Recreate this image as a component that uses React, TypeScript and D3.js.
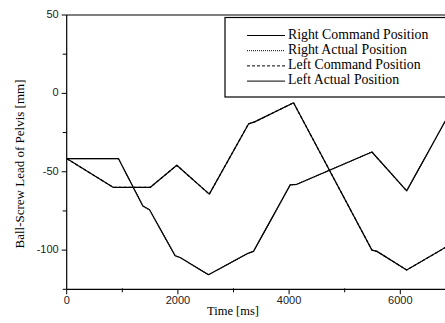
import React from "react";
import * as d3 from "d3";

const xMajorTicks = [0, 2000, 4000, 6000];
const xMinorTicks = [1000, 3000, 5000];
const yMajorTicks = [50, 0, -50, -100];
const yMinorTicks = [25, -25, -75, -125];

const rightCommand: [number, number][] = [
  [0, -41.6], [930, -41.6], [1370, -71.8], [1490, -74.3], [1950, -103.6], [2040, -104.7],
  [2550, -115.7], [3270, -101.9], [3360, -100.8], [4020, -58.4], [4140, -58], [5490, -37.4],
  [6115, -62.2], [6810, -17.6],
];
const rightActual: [number, number][] = [
  [0, -41.6], [930, -41.6], [1370, -71.8], [1490, -74.3], [1950, -103.6], [2040, -104.7],
  [2550, -115.7], [3270, -101.9], [3360, -100.8], [4020, -58.4], [4140, -58], [5490, -37.4],
  [6115, -62.2], [6810, -17.6],
];
const leftCommand: [number, number][] = [
  [0, -41.6], [840, -60], [1500, -60], [1980, -45.9], [2565, -64.3], [3270, -19.5],
  [3380, -18.2], [4080, -6], [5490, -100], [5580, -100.8], [6115, -112.7], [6810, -98.3],
];
const leftActual: [number, number][] = [
  [0, -41.6], [840, -60], [1500, -60], [1980, -45.9], [2565, -64.3], [3270, -19.5],
  [3380, -18.2], [4080, -6], [5490, -100], [5580, -100.8], [6115, -112.7], [6810, -98.3],
];

const legendLabels = [
  "Right Command Position",
  "Right Actual Position",
  "Left Command Position",
  "Left Actual Position",
];
const legendDash = ["none", "1,1", "3,2", "none"];

export default function App() {
  const W = 445, H = 323;
  const left = 66.7, top = 15, bottom = 289.3;
  const x = d3.scaleLinear().domain([0, 7000]).range([left, left + 3.5 * 111.2]);
  const y = d3.scaleLinear().domain([-125, 50]).range([bottom, top]);
  const line = d3
    .line<[number, number]>()
    .x((d) => x(d[0]))
    .y((d) => y(d[1]))
    .curve(d3.curveLinear);
  const series = [rightCommand, rightActual, leftCommand, leftActual];
  const sans = "'Liberation Sans', Arial, sans-serif";
  const serif = "'Liberation Serif', 'Times New Roman', serif";

  return (
    <svg
      width={W}
      height={H}
      style={{ position: "absolute", left: 0, top: 0, background: "#fff" }}
    >
      <defs>
        <clipPath id="plot">
          <rect x={left} y={top} width={W - left} height={bottom - top} />
        </clipPath>
      </defs>
      <g clipPath="url(#plot)">
        {series.map((s, i) => (
          <path
            key={i}
            d={line(s) || ""}
            fill="none"
            stroke="#000"
            strokeWidth={1.2}
            strokeLinejoin="round"
            strokeDasharray={legendDash[i]}
          />
        ))}
      </g>
      {/* axes */}
      <line x1={left} x2={W} y1={top} y2={top} stroke="#000" strokeWidth={1.2} />
      <line x1={left} x2={W} y1={bottom} y2={bottom} stroke="#000" strokeWidth={1.2} />
      <line x1={left} x2={left} y1={top} y2={bottom} stroke="#000" strokeWidth={1.2} />
      {xMajorTicks.map((t) => (
        <g key={"xm" + t}>
          <line x1={x(t)} x2={x(t)} y1={bottom} y2={bottom + 5} stroke="#000" />
          <text
            x={x(t)}
            y={bottom + 12}
            textAnchor="middle"
            dominantBaseline="middle"
            fontFamily={sans}
            fontSize={11}
            fill="#222"
          >
            {t}
          </text>
        </g>
      ))}
      {xMinorTicks.map((t) => (
        <line key={"xn" + t} x1={x(t)} x2={x(t)} y1={bottom - 1} y2={bottom + 3} stroke="#000" />
      ))}
      {yMajorTicks.map((t) => (
        <g key={"ym" + t}>
          <line x1={left - 5} x2={left} y1={y(t)} y2={y(t)} stroke="#000" />
          <text
            x={left - 8}
            y={y(t)}
            textAnchor="end"
            dominantBaseline="middle"
            fontFamily={sans}
            fontSize={11}
            fill="#222"
          >
            {t}
          </text>
        </g>
      ))}
      {yMinorTicks.map((t) => (
        <line key={"yn" + t} x1={left - 4} x2={left} y1={y(t)} y2={y(t)} stroke="#000" />
      ))}
      {/* axis titles */}
      <text
        x={233}
        y={312}
        textAnchor="middle"
        dominantBaseline="middle"
        fontFamily={serif}
        fontSize={12.5}
        fill="#000"
      >
        Time [ms]
      </text>
      <text
        transform={`translate(21,164) rotate(-90)`}
        textAnchor="middle"
        dominantBaseline="middle"
        fontFamily={serif}
        fontSize={13}
        fill="#000"
      >
        Ball-Screw Lead of Pelvis [mm]
      </text>
      {/* legend */}
      <rect x={225} y={17.5} width={W} height={79.5} fill="#fff" stroke="#000" strokeWidth={1.2} />
      {legendLabels.map((lab, i) => {
        const ly = 35.5 + i * 15.2;
        return (
          <g key={lab}>
            <line
              x1={247}
              x2={285}
              y1={ly}
              y2={ly}
              stroke="#000"
              strokeWidth={1}
              strokeDasharray={legendDash[i]}
            />
            <text
              x={288}
              y={ly}
              dominantBaseline="middle"
              fontFamily={serif}
              fontSize={13.8}
              fill="#000"
            >
              {lab}
            </text>
          </g>
        );
      })}
    </svg>
  );
}
